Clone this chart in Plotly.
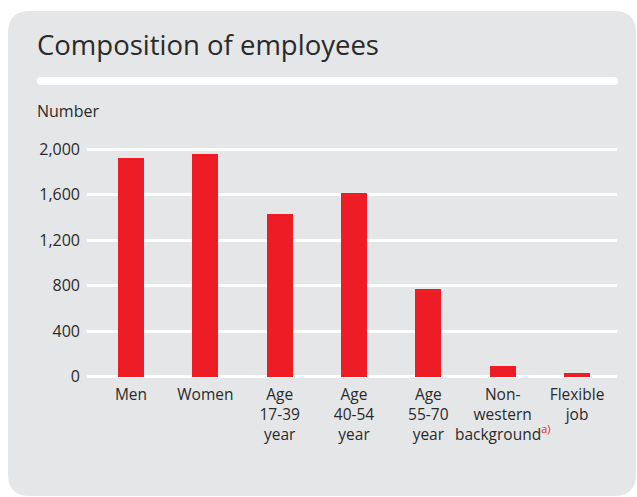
import plotly.graph_objects as go

# Employee counts by group
categories = [
    "Men",
    "Women",
    "Age<br>17-39<br>year",
    "Age<br>40-54<br>year",
    "Age<br>55-70<br>year",
    "Non-<br>western<br>background<sup><span style='color:#ee1c25'>a)</span></sup>",
    "Flexible<br>job",
]
employees = [1923, 1958, 1430, 1618, 771, 94, 33]
tick_values = [0, 400, 800, 1200, 1600, 2000]

W, H = 637, 497
RED = "#ee1c25"
CARD = "#e5e6e8"
TEXT = "#2a2a2a"
FONT = "Open Sans"

# plot-area geometry in pixels
L, R, T, B = 87, 617, 130, 380


def px(x):
    return (x - L) / (R - L)


def py(y):
    return (B - y) / (B - T)


def rounded_rect(x0, y0, x1, y1, r):
    """Rounded rectangle path in paper coordinates from pixel corners."""
    pts = [
        ("M", [(x0 + r, y0)]),
        ("L", [(x1 - r, y0)]),
        ("Q", [(x1, y0), (x1, y0 + r)]),
        ("L", [(x1, y1 - r)]),
        ("Q", [(x1, y1), (x1 - r, y1)]),
        ("L", [(x0 + r, y1)]),
        ("Q", [(x0, y1), (x0, y1 - r)]),
        ("L", [(x0, y0 + r)]),
        ("Q", [(x0, y0), (x0 + r, y0)]),
    ]
    out = []
    for cmd, coords in pts:
        out.append(cmd + " " + " ".join(f"{px(a):.5f},{py(b):.5f}" for a, b in coords))
    return " ".join(out) + " Z"


fig = go.Figure(
    go.Bar(
        x=categories,
        y=employees,
        marker=dict(color=RED, line=dict(width=0)),
        width=0.35,
        hoverinfo="skip",
    )
)

fig.update_layout(
    width=W,
    height=H,
    margin=dict(l=L, r=W - R, t=T, b=H - B, pad=0),
    paper_bgcolor="white",
    plot_bgcolor="rgba(0,0,0,0)",
    showlegend=False,
    font=dict(family=FONT, size=15, color=TEXT),
    bargap=0,
    shapes=[
        dict(
            type="path",
            xref="paper",
            yref="paper",
            path=rounded_rect(8, 11, 636, 496, 22),
            fillcolor=CARD,
            line=dict(width=0),
            layer="below",
        ),
        dict(
            type="path",
            xref="paper",
            yref="paper",
            path=rounded_rect(37, 77, 618, 85, 4),
            fillcolor="white",
            line=dict(width=0),
            layer="below",
        ),
    ],
    annotations=[
        dict(
            text="Composition of employees",
            xref="paper",
            yref="paper",
            x=px(35),
            y=py(65),
            xanchor="left",
            yanchor="bottom",
            showarrow=False,
            font=dict(family=FONT, size=27.5, color=TEXT),
        ),
        dict(
            text="Number",
            xref="paper",
            yref="paper",
            x=px(35),
            y=py(124),
            xanchor="left",
            yanchor="bottom",
            showarrow=False,
            font=dict(family=FONT, size=16, color=TEXT),
        ),
    ],
)

fig.update_xaxes(
    type="category",
    range=[-0.592, 6.538],
    showgrid=False,
    showline=False,
    zeroline=False,
    ticks="",
    tickangle=0,
    ticklabelstandoff=3,
    tickfont=dict(family=FONT, size=15.5, color=TEXT),
)

fig.update_yaxes(
    range=[-29, 2169],
    tickvals=tick_values,
    tickformat=",",
    showgrid=True,
    gridcolor="white",
    gridwidth=3,
    zeroline=True,
    zerolinecolor="white",
    zerolinewidth=3,
    showline=False,
    ticks="",
    ticklabelstandoff=6,
    tickfont=dict(family=FONT, size=16, color=TEXT),
)

fig.write_html("out.html")
